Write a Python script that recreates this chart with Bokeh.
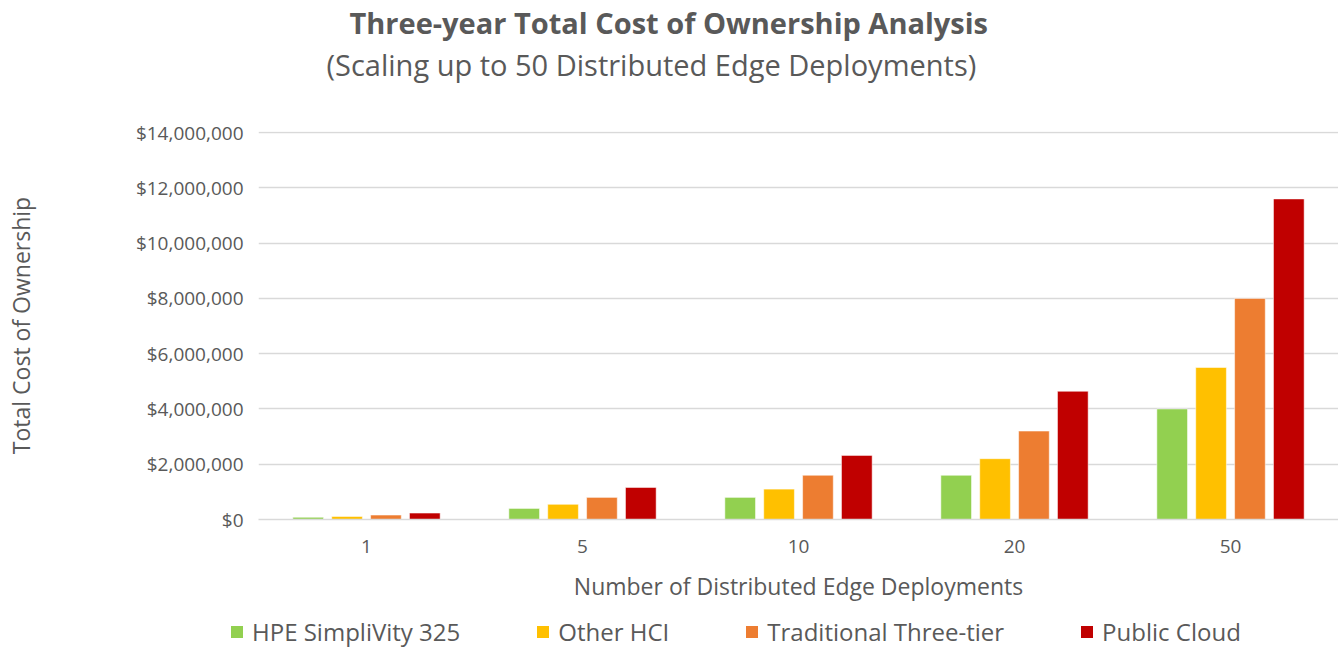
from bokeh.plotting import figure
from bokeh.layouts import column, row
from bokeh.models import (ColumnDataSource, FactorRange, Range1d, FixedTicker,
                          NumeralTickFormatter, Title, Legend, LegendItem)
from bokeh.transform import dodge
from bokeh.embed import file_html
from bokeh.resources import INLINE

# ---- data ----
deployments = ["1", "5", "10", "20", "50"]
series_names = ["HPE SimpliVity 325", "Other HCI", "Traditional Three-tier", "Public Cloud"]
hpe_simplivity = [80000, 400000, 800000, 1600000, 4000000]
other_hci = [110000, 550000, 1100000, 2200000, 5500000]
traditional = [160000, 800000, 1600000, 3200000, 8000000]
public_cloud = [232000, 1160000, 2320000, 4640000, 11600000]
y_ticks = [0, 2000000, 4000000, 6000000, 8000000, 10000000, 12000000, 14000000]

colors = ["#92D050", "#FFC000", "#ED7D31", "#C00000"]
TXT = "#595959"
FONT = "Open Sans"

source = ColumnDataSource(data=dict(
    x=deployments, hpe=hpe_simplivity, hci=other_hci, trad=traditional, cloud=public_cloud))

p = figure(x_range=FactorRange(*deployments, range_padding=0),
           y_range=Range1d(0, 14040000),
           width=1338, output_backend="svg", toolbar_location=None,
           min_border_left=258, min_border_top=0, min_border_right=0,
           min_border_bottom=90, frame_width=1080, frame_height=388,
           title=None)
p.outline_line_color = None
p.background_fill_color = "white"
p.border_fill_color = "white"

offsets = [-0.27, -0.09, 0.09, 0.27]
cols = ["hpe", "hci", "trad", "cloud"]
for col, off, c in zip(cols, offsets, colors):
    p.vbar(x=dodge("x", off, range=p.x_range), top=col, width=0.142, source=source,
           fill_color=c, line_color="white", line_alpha=0.5, line_width=1)

# axes
p.yaxis.ticker = FixedTicker(ticks=y_ticks)
p.yaxis.formatter = NumeralTickFormatter(format="$0,0")
p.yaxis.axis_line_color = None
p.yaxis.major_tick_line_color = None
p.yaxis.minor_tick_line_color = None
p.yaxis.major_label_text_font = FONT
p.yaxis.major_label_text_font_size = "19px"
p.yaxis.major_label_text_color = TXT
p.yaxis.major_label_standoff = 9
p.yaxis.axis_label = "Total Cost of Ownership"
p.yaxis.axis_label_text_font = FONT
p.yaxis.axis_label_text_font_size = "23px"
p.yaxis.axis_label_text_font_style = "normal"
p.yaxis.axis_label_text_color = TXT
p.yaxis.axis_label_standoff = 96

p.xaxis.axis_line_color = "#D9D9D9"
p.xaxis.axis_line_width = 1.5
p.xaxis.major_tick_line_color = None
p.xaxis.minor_tick_line_color = None
p.xaxis.major_label_text_font = FONT
p.xaxis.major_label_text_font_size = "19px"
p.xaxis.major_label_text_color = TXT
p.xaxis.major_label_standoff = 14
p.xaxis.axis_label = "Number of Distributed Edge Deployments"
p.xaxis.axis_label_text_font = FONT
p.xaxis.axis_label_text_font_size = "23px"
p.xaxis.axis_label_text_font_style = "normal"
p.xaxis.axis_label_text_color = TXT
p.xaxis.axis_label_standoff = 14

p.xgrid.grid_line_color = None
p.ygrid.grid_line_color = "#D9D9D9"
p.ygrid.grid_line_width = 1.5

# titles (first added sits closest to the frame); a blank spacer keeps the gap
p.add_layout(Title(text=" ", text_font_size="1px", standoff=44), "above")
p.add_layout(Title(text="(Scaling up to 50 Distributed Edge Deployments)", align="left",
                   offset=68, text_font=FONT, text_font_size="29px",
                   text_font_style="normal", text_color=TXT, standoff=2), "above")
p.add_layout(Title(text="Three-year Total Cost of Ownership Analysis", align="left",
                   offset=91, text_font=FONT, text_font_size="29px",
                   text_font_style="bold", text_color=TXT, standoff=0), "above")

# legend strip: its own small figure; the key renderers use the series columns
# but lie far outside this strip's 0..1 ranges, so only their legend swatches show
leg_fig = figure(width=1338, height=40, output_backend="svg", toolbar_location=None,
                 x_range=Range1d(0, 1), y_range=Range1d(0, 1),
                 min_border_left=0, min_border_right=0, min_border_top=0, min_border_bottom=0)
leg_fig.axis.visible = False
leg_fig.grid.grid_line_color = None
leg_fig.outline_line_color = None
keys = []
for col, c in zip(cols, colors):
    keys.append(leg_fig.vbar(x=col, top=col, bottom=col, width=1, source=source,
                             fill_color=c, line_color=None))
legend = Legend(items=[LegendItem(label=n, renderers=[r]) for n, r in zip(series_names, keys)],
                orientation="horizontal", location=(229, 1),
                glyph_width=15, glyph_height=15, label_standoff=8, spacing=75,
                padding=0, margin=0, border_line_color=None, background_fill_alpha=0,
                label_text_font=FONT, label_text_font_size="24px", label_text_color=TXT)
leg_fig.add_layout(legend, "center")

layout = column(p, row(leg_fig), spacing=0)
open("out.html", "w").write(file_html(layout, INLINE))
